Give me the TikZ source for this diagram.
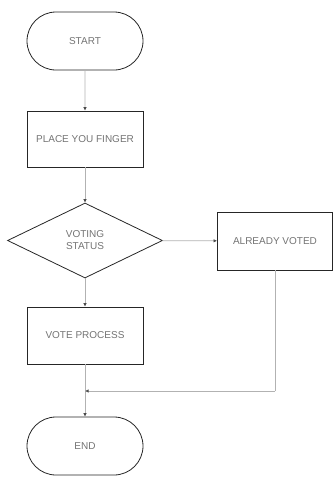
\documentclass[tikz,border=0pt]{standalone}
\usepackage{fontspec}
\setmainfont{Liberation Sans}
\usetikzlibrary{shapes.geometric,shapes.misc,arrows.meta}
\begin{document}
\begin{tikzpicture}[x=1pt,y=-1pt,
  every node/.style={font=\fontsize{10}{12}\selectfont, text=black!55},
  term/.style={draw=black!85, line width=0.8pt, rounded rectangle, minimum width=116pt, minimum height=58pt, inner sep=0pt},
  proc/.style={draw=black!85, line width=0.8pt, rectangle, minimum width=116pt, minimum height=56pt, inner sep=0pt},
  dec/.style={draw=black!85, line width=0.8pt, diamond, minimum width=155pt, minimum height=75pt, inner sep=0pt, aspect=2.07, align=center},
  conn/.style={draw=black!30, line width=0.7pt, -{Latex[length=3.5pt,width=3.5pt,color=black!70]}},
  line/.style={draw=black!30, line width=0.7pt}]
\useasboundingbox (0,0) rectangle (334,477);
\node[term] (start) at (85,41) {START};
\node[proc] (place) at (85,139) {PLACE YOU FINGER};
\node[dec] (vs) at (85,240.5) {VOTING\\STATUS};
\node[proc] (already) at (275,241) [minimum width=115pt, minimum height=58pt] {ALREADY VOTED};
\node[proc] (vote) at (85,335.5) [minimum height=57pt] {VOTE PROCESS};
\node[term] (end) at (85,446) {END};
\coordinate (m) at (85,391);
\coordinate (c) at (275,391);
\draw[conn] (start) -- (place);
\draw[conn] (place) -- (vs);
\draw[conn] (vs) -- (already);
\draw[conn] (vs) -- (vote);
\draw[line] (vote) -- (m);
\draw[conn] (m) -- (end);
\draw[line] (already.south) -- (c);
\draw[conn] (c) -- (m);
\end{tikzpicture}
\end{document}
